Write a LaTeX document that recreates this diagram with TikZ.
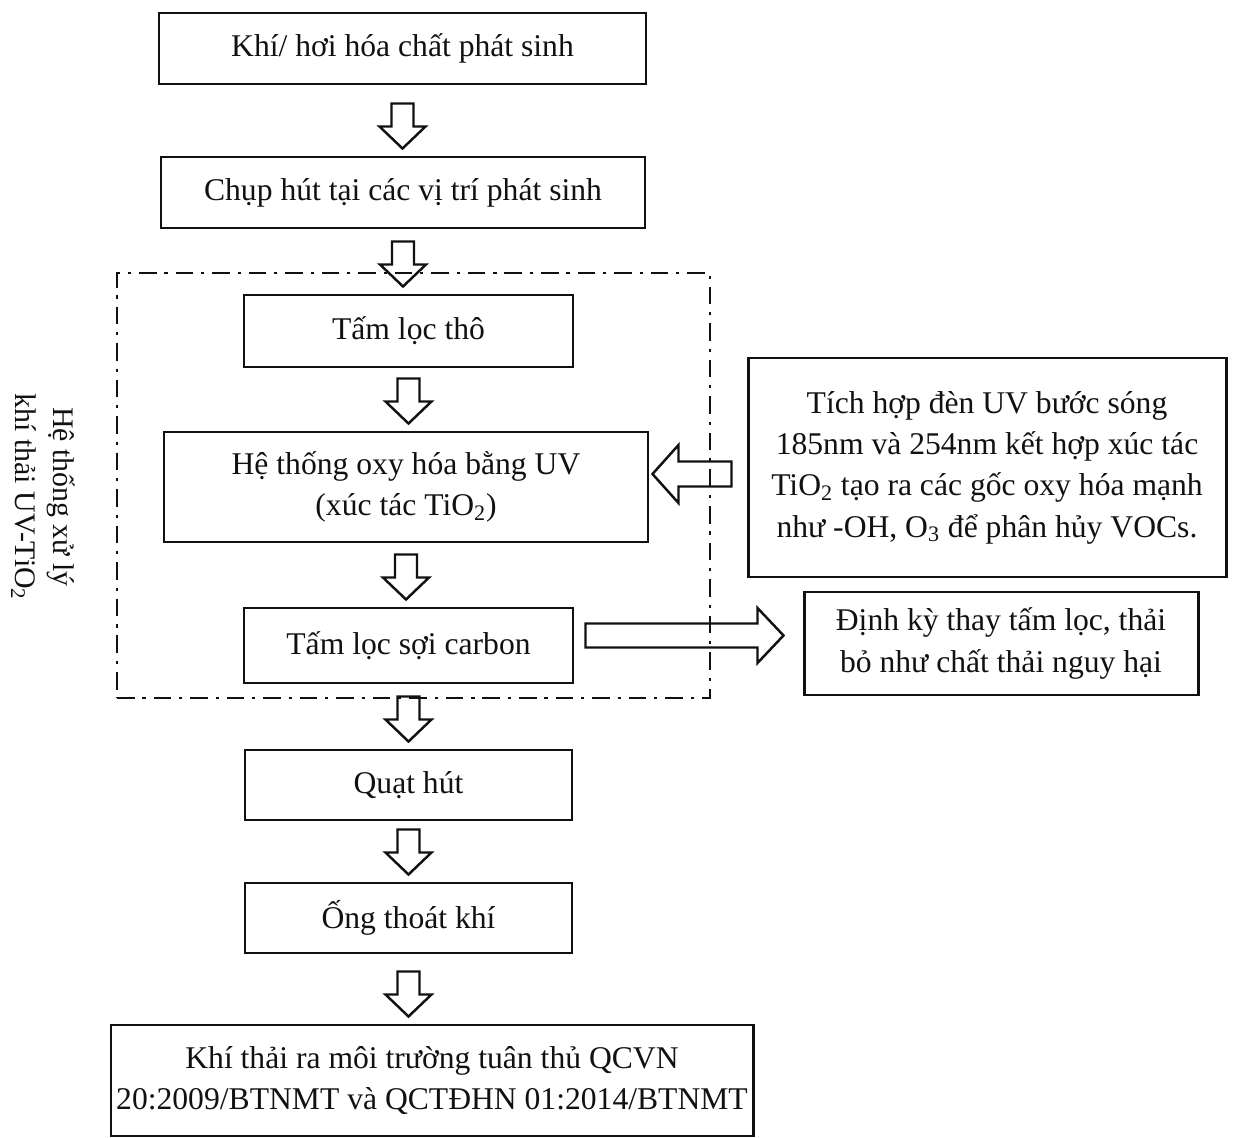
\documentclass[tikz,border=0pt]{standalone}
\usepackage{fontspec}
\setmainfont{Liberation Serif}
\usepackage{xcolor}
\usepackage{tikz}
\usetikzlibrary{calc}
\definecolor{ink}{HTML}{111111}
\newcommand\boxfont{\fontsize{18}{23.5}\selectfont}
\newcommand\sidefont{\fontsize{17}{21.5}\selectfont}
\tikzset{
  box/.style={draw=ink, line width=1.7pt, inner sep=0pt, align=center, text=ink, font=\boxfont},
  sz/.style 2 args={minimum width=#1*0.02cm, minimum height=#2*0.02cm},
  fat/.style={draw=ink, fill=white, line width=1.4pt, line join=miter},
  frame/.style={draw=ink, line width=1.6pt, dash pattern=on 10pt off 4.5pt on 1.8pt off 4.5pt},
  lab/.style={text=ink, align=center, font=\sidefont},
}
% hollow arrow pointing down, from one box to the next
\newcommand\flowdown[2]{%
  \coordinate (tip) at ($(#1.south |- #2.north)+(0,-7)$);
  \draw[fat] ($(tip)+(-11,-45)$) -- ($(tip)+(-11,-22)$) -- ($(tip)+(-23,-22)$) -- (tip)
    -- ($(tip)+(23,-22)$) -- ($(tip)+(11,-22)$) -- ($(tip)+(11,-45)$) -- cycle;}
% hollow side arrow: tail, tip, head length (signed), head half, shaft half
\newcommand\sidearrow[5]{%
  \draw[fat] ($(#1)+(0,-#5)$) -- ($(#2)+(#3,-#5)$) -- ($(#2)+(#3,-#4)$) -- (#2)
    -- ($(#2)+(#3,#4)$) -- ($(#2)+(#3,#5)$) -- ($(#1)+(0,#5)$) -- cycle;}

\begin{document}
\begin{tikzpicture}[x=0.02cm, y=-0.02cm]
  \useasboundingbox (0,0) rectangle (1238,1138);

  \node[box, sz={487}{71}]  (gas)    at (402.5,48.5) {Khí/ hơi hóa chất phát sinh};
  \node[box, sz={484}{71}]  (hood)   at (403,192.5)  {Chụp hút tại các vị trí phát sinh};
  \node[box, sz={329}{72}]  (coarse) at (408.5,331)  {Tấm lọc thô};
  \node[box, sz={484}{110}] (uvox)   at (406,487)    {Hệ thống oxy hóa bằng UV\\(xúc tác TiO\textsubscript{2})};
  \node[box, sz={329}{75}]  (carbon) at (408.5,645.5) {Tấm lọc sợi carbon};
  \node[box, sz={327}{70}]  (fan)    at (408.5,785)  {Quạt hút};
  \node[box, sz={327}{70}]  (stack)  at (408.5,918)  {Ống thoát khí};
  \node[box, sz={642}{111}] (out)    at (432,1080.5) {Khí thải ra môi trường tuân thủ QCVN\\20:2009/BTNMT và QCTĐHN 01:2014/BTNMT};

  \node[box, sz={478}{219}] (uvnote)   at (987,467.5)  {Tích hợp đèn UV bước sóng\\185nm và 254nm kết hợp xúc tác\\TiO\textsubscript{2} tạo ra các gốc oxy hóa mạnh\\như -OH, O\textsubscript{3} để phân hủy VOCs.};
  \node[box, sz={394}{103}] (carbnote) at (1001,643.5) {Định kỳ thay tấm lọc, thải\\bỏ như chất thải nguy hại};

  \flowdown{gas}{hood}
  \flowdown{hood}{coarse}
  \flowdown{coarse}{uvox}
  \flowdown{uvox}{carbon}
  \flowdown{carbon}{fan}
  \flowdown{fan}{stack}
  \flowdown{stack}{out}

  \coordinate (uvtip)  at ($(uvox.east)+(3,-13)$);
  \coordinate (uvtail) at ($(uvtip -| uvnote.west)+(-15,0)$);
  \sidearrow{uvtail}{uvtip}{26}{29}{12.5}
  \coordinate (cbtail) at ($(carbon.east)+(11,-10)$);
  \coordinate (cbtip)  at ($(cbtail -| carbnote.west)+(-19,0)$);
  \sidearrow{cbtail}{cbtip}{-26}{27.5}{12}

  \node[frame, sz={593}{425}] (uvsys) at (413.5,485.5) {};
  \node[lab, rotate=-90] (syslab) at (43,497) {Hệ thống xử lý\\khí thải UV-TiO\textsubscript{2}};
\end{tikzpicture}
\end{document}
